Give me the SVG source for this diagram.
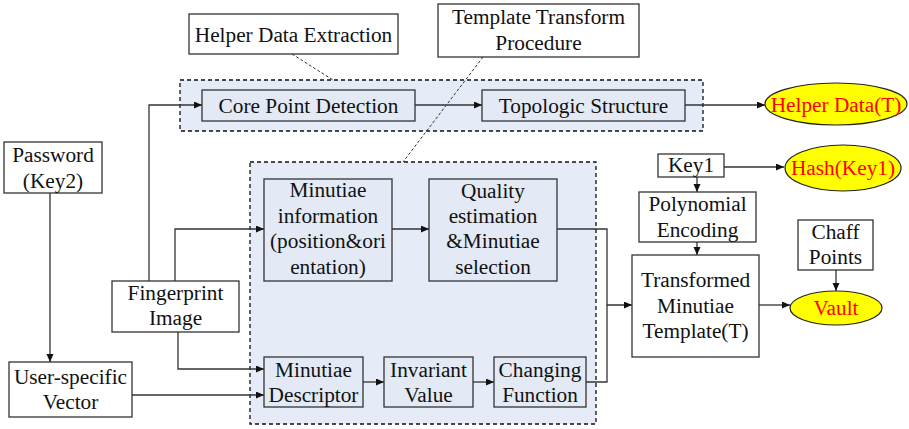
<svg xmlns="http://www.w3.org/2000/svg" width="909" height="429" viewBox="0 0 909 429">
  <style>
    text { font-family: "Liberation Serif", "Times New Roman", serif; font-size: 21.3px; fill: #111; text-anchor: middle; }
    .red { fill: #ff0000; }
    .box { fill: #ffffff; stroke: #333333; stroke-width: 1.3; }
    .inner { fill: #e3eaf6; stroke: #333333; stroke-width: 1.3; }
    .group { fill: #e6ecf7; stroke: #111111; stroke-width: 1.3; stroke-dasharray: 4 3; }
    .ell { fill: #ffff00; stroke: #222222; stroke-width: 1.2; }
    .link { fill: none; stroke: #333333; stroke-width: 1.3; }
    .leader { fill: none; stroke: #333333; stroke-width: 1; stroke-dasharray: 3 2; }
  </style>
  <defs>
    <marker id="arrow" markerUnits="userSpaceOnUse" markerWidth="9" markerHeight="8" refX="8" refY="3.5" orient="auto">
      <path d="M0,0 L8,3.5 L0,7 z" fill="#111111"/>
    </marker>
  </defs>

  <rect width="909" height="429" fill="#ffffff"/>

  <!-- dashed grouping regions -->
  <g id="helper-region">
    <rect class="group" x="180" y="80" width="523" height="51"/>
  </g>
  <g id="transform-region">
    <rect class="group" x="250" y="162" width="346" height="262"/>
  </g>

  <!-- connectors -->
  <g id="connectors">
    <line class="leader" x1="292" y1="54" x2="333" y2="80"/>
    <line class="leader" x1="483" y1="57" x2="403" y2="162"/>
    <polyline class="link" points="149,281 149,105 202,105" marker-end="url(#arrow)"/>
    <polyline class="link" points="175,281 175,229 264,229" marker-end="url(#arrow)"/>
    <polyline class="link" points="178,332 178,369 264,369" marker-end="url(#arrow)"/>
    <line class="link" x1="132" y1="395" x2="264" y2="395" marker-end="url(#arrow)"/>
    <line class="link" x1="50" y1="193" x2="50" y2="362" marker-end="url(#arrow)"/>
    <line class="link" x1="415" y1="105" x2="482" y2="105" marker-end="url(#arrow)"/>
    <line class="link" x1="685" y1="105" x2="765" y2="105" marker-end="url(#arrow)"/>
    <line class="link" x1="392" y1="229" x2="429" y2="229" marker-end="url(#arrow)"/>
    <polyline class="link" points="557,229 607,229 607,305 632,305" marker-end="url(#arrow)"/>
    <polyline class="link" points="586,382 607,382 607,305"/>
    <line class="link" x1="363" y1="382" x2="384" y2="382" marker-end="url(#arrow)"/>
    <line class="link" x1="473" y1="382" x2="494" y2="382" marker-end="url(#arrow)"/>
    <line class="link" x1="724" y1="167" x2="784" y2="167" marker-end="url(#arrow)"/>
    <line class="link" x1="697" y1="177" x2="697" y2="192" marker-end="url(#arrow)"/>
    <line class="link" x1="697" y1="242" x2="697" y2="255" marker-end="url(#arrow)"/>
    <line class="link" x1="836" y1="270" x2="836" y2="291" marker-end="url(#arrow)"/>
    <line class="link" x1="759" y1="305" x2="790" y2="305" marker-end="url(#arrow)"/>
  </g>

  <g id="helper-data-extraction">
    <rect class="box" x="189" y="14" width="209" height="40"/>
    <text x="293.5" y="42">Helper Data Extraction</text>
  </g>
  <g id="template-transform-procedure">
    <rect class="box" x="438" y="4" width="201" height="53"/>
    <text x="538.5" y="24">Template Transform</text>
    <text x="538.5" y="50">Procedure</text>
  </g>
  <g id="core-point-detection">
    <rect class="inner" x="202" y="90" width="213" height="31"/>
    <text x="308.5" y="113">Core Point Detection</text>
  </g>
  <g id="topologic-structure">
    <rect class="inner" x="482" y="90" width="203" height="31"/>
    <text x="583.5" y="113">Topologic Structure</text>
  </g>
  <g id="helper-data-t">
    <ellipse class="ell" cx="836" cy="104" rx="71" ry="21"/>
    <text class="red" x="836" y="112">Helper Data(T)</text>
  </g>
  <g id="password">
    <rect class="box" x="4" y="142" width="98" height="51"/>
    <text x="53" y="162">Password</text>
    <text x="53" y="188">(Key2)</text>
  </g>
  <g id="minutiae-information">
    <rect class="inner" x="264" y="179" width="128" height="102"/>
    <text x="328" y="197">Minutiae</text>
    <text x="328" y="223">information</text>
    <text x="328" y="248">(position&amp;ori</text>
    <text x="328" y="274">entation)</text>
  </g>
  <g id="quality-estimation">
    <rect class="inner" x="429" y="179" width="128" height="102"/>
    <text x="493" y="198">Quality</text>
    <text x="493" y="223">estimation</text>
    <text x="493" y="248">&amp;Minutiae</text>
    <text x="493" y="274">selection</text>
  </g>
  <g id="fingerprint-image">
    <rect class="box" x="112" y="281" width="127" height="51"/>
    <text x="175.5" y="300">Fingerprint</text>
    <text x="175.5" y="325">Image</text>
  </g>
  <g id="user-specific-vector">
    <rect class="box" x="9" y="362" width="123" height="55"/>
    <text x="70.5" y="384">User-specific</text>
    <text x="70.5" y="409">Vector</text>
  </g>
  <g id="minutiae-descriptor">
    <rect class="inner" x="264" y="357" width="99" height="50"/>
    <text x="313.5" y="377">Minutiae</text>
    <text x="313.5" y="402">Descriptor</text>
  </g>
  <g id="invariant-value">
    <rect class="inner" x="384" y="357" width="89" height="50"/>
    <text x="428.5" y="377">Invariant</text>
    <text x="428.5" y="402">Value</text>
  </g>
  <g id="changing-function">
    <rect class="inner" x="494" y="357" width="92" height="50"/>
    <text x="540" y="377">Changing</text>
    <text x="540" y="402">Function</text>
  </g>
  <g id="key1">
    <rect class="box" x="658" y="154" width="66" height="23"/>
    <text x="691" y="172">Key1</text>
  </g>
  <g id="hash-key1">
    <ellipse class="ell" cx="843" cy="168" rx="58" ry="23"/>
    <text class="red" x="843" y="175">Hash(Key1)</text>
  </g>
  <g id="polynomial-encoding">
    <rect class="box" x="639" y="192" width="117" height="50"/>
    <text x="697.5" y="211">Polynomial</text>
    <text x="697.5" y="237">Encoding</text>
  </g>
  <g id="chaff-points">
    <rect class="box" x="798" y="220" width="75" height="50"/>
    <text x="835.5" y="239">Chaff</text>
    <text x="835.5" y="264">Points</text>
  </g>
  <g id="transformed-template">
    <rect class="box" x="632" y="255" width="127" height="102"/>
    <text x="695.5" y="287">Transformed</text>
    <text x="695.5" y="313">Minutiae</text>
    <text x="695.5" y="338">Template(T)</text>
  </g>
  <g id="vault">
    <ellipse class="ell" cx="836" cy="308" rx="46" ry="17"/>
    <text class="red" x="836" y="315">Vault</text>
  </g>
</svg>
